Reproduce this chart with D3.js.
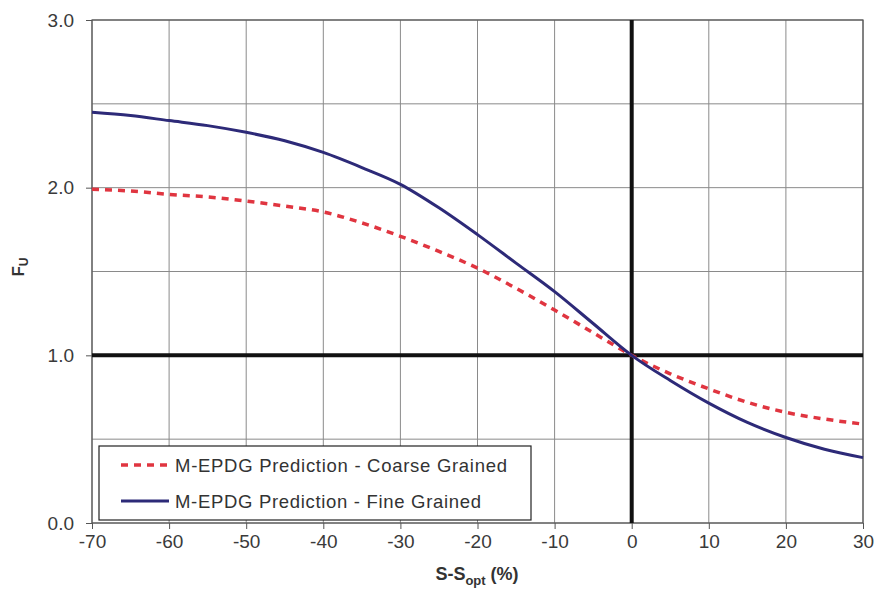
<!DOCTYPE html>
<html><head><meta charset="utf-8">
<script src="https://cdn.jsdelivr.net/npm/d3@7"></script>
<style>body{margin:0;background:#fff;} svg{display:block;}</style>
</head><body><svg id="c" width="876" height="590"></svg>
<script>
const xTicks = [-70,-60,-50,-40,-30,-20,-10,0,10,20,30];
const yTicks = [0,1,2,3];
const yGrid = [0,0.5,1,1.5,2,2.5,3];
const sValues = [-70,-65,-60,-55,-50,-45,-40,-35,-30,-25,-20,-15,-10,-5,0,5,10,15,20,25,30];
const coarse = [1.99,1.98,1.96,1.945,1.92,1.89,1.855,1.79,1.71,1.62,1.52,1.40,1.27,1.135,1.0,0.89,0.80,0.72,0.66,0.62,0.59];
const fine   = [2.45,2.43,2.40,2.37,2.33,2.28,2.21,2.12,2.02,1.88,1.72,1.55,1.38,1.19,1.0,0.85,0.715,0.60,0.51,0.44,0.39];
const seriesNames = ["M-EPDG Prediction - Coarse Grained","M-EPDG Prediction - Fine Grained"];

const svg = d3.select("#c");
const L=92,R=863,T=20,B=523;
const x = d3.scaleLinear().domain([-70,30]).range([L,R]);
const y = d3.scaleLinear().domain([0,3]).range([B,T]);
const font = "Arial, 'Liberation Sans', sans-serif";

// grid
svg.append("g").selectAll("line").data(xTicks).join("line")
  .attr("x1",d=>x(d)).attr("x2",d=>x(d)).attr("y1",T).attr("y2",B)
  .attr("stroke","#8a8a8a").attr("stroke-width",1);
svg.append("g").selectAll("line").data(yGrid).join("line")
  .attr("x1",L).attr("x2",R).attr("y1",d=>y(d)).attr("y2",d=>y(d))
  .attr("stroke","#8a8a8a").attr("stroke-width",1);
// frame
svg.append("rect").attr("x",L).attr("y",T).attr("width",R-L).attr("height",B-T)
  .attr("fill","none").attr("stroke","#555").attr("stroke-width",1.2);

// axes
const xAxis = d3.axisBottom(x).tickValues(xTicks).tickSize(6).tickPadding(6).tickFormat(d3.format("d"));
const gx = svg.append("g").attr("transform",`translate(0,${B})`).call(xAxis);
gx.select(".domain").remove();
gx.selectAll("line").attr("stroke","#555");
gx.selectAll("text").attr("font-family",font).attr("font-size",19).attr("fill","#3a3a3a")
  .text(d=>d<0?"-"+Math.abs(d):d);
const yAxis = d3.axisLeft(y).tickValues(yTicks).tickSize(6).tickPadding(12).tickFormat(d3.format(".1f"));
const gy = svg.append("g").attr("transform",`translate(${L},0)`).call(yAxis);
gy.select(".domain").remove();
gy.selectAll("line").attr("stroke","#555");
gy.selectAll("text").attr("font-family",font).attr("font-size",19).attr("fill","#3a3a3a");

// thick reference lines
svg.append("line").attr("x1",x(0)).attr("x2",x(0)).attr("y1",T).attr("y2",B).attr("stroke","#111").attr("stroke-width",4);
svg.append("line").attr("x1",L).attr("x2",R).attr("y1",y(1)).attr("y2",y(1)).attr("stroke","#111").attr("stroke-width",4);

const line = d3.line().x((d,i)=>x(sValues[i])).y(d=>y(d)).curve(d3.curveMonotoneX);
svg.append("path").datum(coarse).attr("d",line).attr("fill","none")
  .attr("stroke","#e03540").attr("stroke-width",3.5).attr("stroke-dasharray","7,6");
svg.append("path").datum(fine).attr("d",line).attr("fill","none")
  .attr("stroke","#2d2a78").attr("stroke-width",3);

// legend
const lg = svg.append("g");
lg.append("rect").attr("x",99).attr("y",446).attr("width",432).attr("height",74)
  .attr("fill","#fff").attr("stroke","#222").attr("stroke-width",1.2);
const rows=[{y:465,c:"#e03540",dash:"7,6",w:3.5,len:332},{y:501,c:"#2d2a78",dash:null,w:3,len:306}];
rows.forEach((r,i)=>{
  lg.append("line").attr("x1",121).attr("x2",169).attr("y1",r.y).attr("y2",r.y)
    .attr("stroke",r.c).attr("stroke-width",r.w).attr("stroke-dasharray",r.dash);
  lg.append("text").attr("x",175).attr("y",r.y).attr("dy","0.36em")
    .attr("font-family",font).attr("font-size",18.5).attr("fill","#333")
    .attr("textLength",r.len).attr("lengthAdjust","spacing").text(seriesNames[i]);
});

// axis titles
const xt = svg.append("text").attr("x",477).attr("y",580).attr("text-anchor","middle")
  .attr("font-family",font).attr("font-size",18).attr("font-weight","bold").attr("fill","#333");
xt.append("tspan").text("S-S");
xt.append("tspan").attr("font-size",13).attr("dy",5).text("opt");
xt.append("tspan").attr("dy",-5).text(" (%)");
const yt = svg.append("text").attr("transform","translate(24,267) rotate(-90)").attr("text-anchor","middle")
  .attr("font-family",font).attr("font-size",17).attr("font-weight","bold").attr("fill","#333");
yt.append("tspan").text("F");
yt.append("tspan").attr("font-size",12).attr("dy",4).text("U");
</script></body></html>
